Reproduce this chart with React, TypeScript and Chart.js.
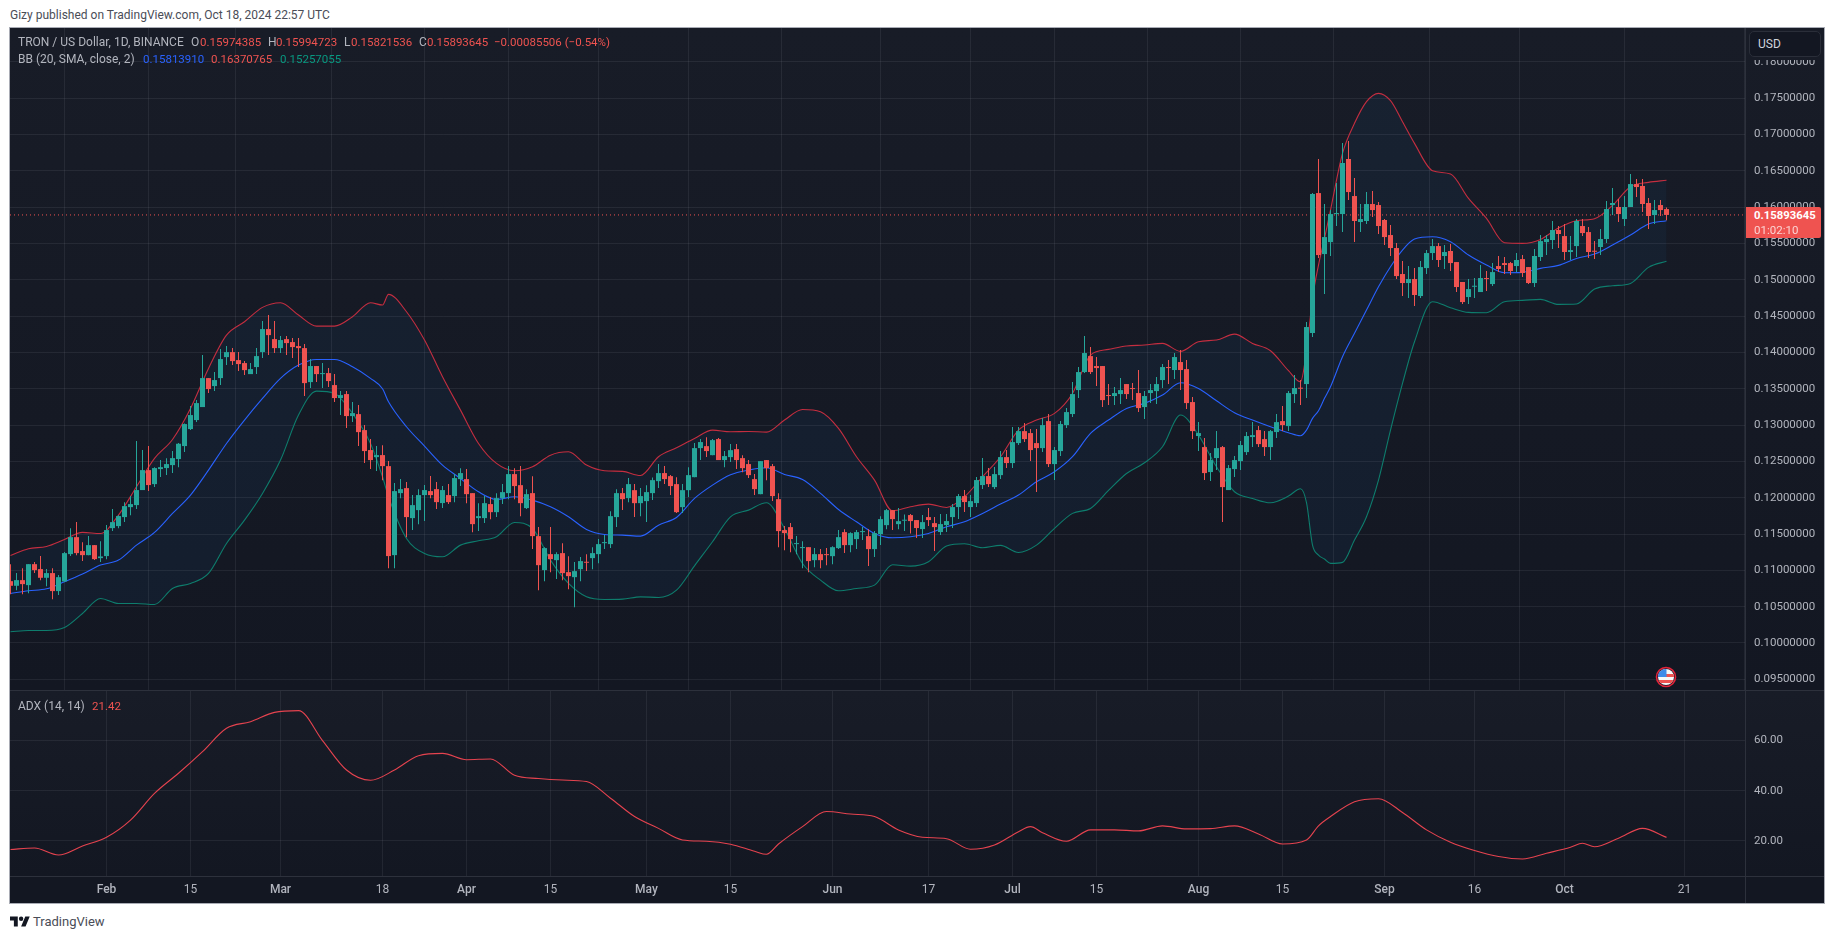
import React, { useEffect, useRef } from "react";
import { Chart, registerables } from "chart.js";

Chart.register(...registerables);

const FONT = "Roboto, sans-serif";

// Days since Jan 16 2024
const opens = [
0.10851,0.10787,0.10865,0.10796,0.11085,0.11017,0.10897,0.10962,0.10714,0.10847,
0.11223,0.11457,0.11265,0.11209,0.11347,0.11168,0.11196,0.11581,0.11609,0.11733,
0.11870,0.11898,0.12105,0.12380,0.12187,0.12394,0.12408,0.12449,0.12532,0.12711,
0.12945,0.13069,0.13248,0.13647,0.13537,0.13647,0.13936,0.14005,0.13895,0.13854,
0.13702,0.13799,0.14005,0.14322,0.14184,0.14060,0.14184,0.14143,0.14088,0.14060,
0.13592,0.13813,0.13702,0.13716,0.13551,0.13372,0.13427,0.13124,0.13151,0.12931,
0.12656,0.12559,0.12587,0.12435,0.11209,0.12063,0.12132,0.11719,0.11829,0.12036,
0.12091,0.12118,0.11926,0.12036,0.12022,0.12256,0.12256,0.12063,0.11719,0.11719,
0.11912,0.11801,0.11994,0.12063,0.12325,0.12173,0.11857,0.12063,0.11471,0.11003,
0.11223,0.11140,0.11237,0.10975,0.10906,0.11016,0.11113,0.11168,0.11223,0.11374,
0.11361,0.11733,0.12063,0.11994,0.12104,0.11925,0.11953,0.12063,0.12228,0.12339,
0.12297,0.12187,0.11870,0.12104,0.12283,0.12683,0.12710,0.12586,0.12807,0.12518,
0.12559,0.12669,0.12545,0.12463,0.12256,0.12049,0.12518,0.12435,0.11980,0.11554,
0.11595,0.11361,0.11306,0.11319,0.11140,0.11223,0.11223,0.11195,0.11306,0.11526,
0.11347,0.11430,0.11526,0.11471,0.11292,0.11498,0.11622,0.11829,0.11636,0.11683,
0.11761,0.11692,0.11568,0.11733,0.11650,0.11527,0.11623,0.11733,0.11871,0.12022,
0.11871,0.11926,0.12174,0.12298,0.12146,0.12311,0.12559,0.12477,0.12752,0.12917,
0.12890,0.12752,0.12683,0.13055,0.12463,0.12642,0.13000,0.13152,0.13482,0.13730,
0.13950,0.13813,0.13813,0.13413,0.13400,0.13427,0.13565,0.13510,0.13441,0.13248,
0.13441,0.13468,0.13620,0.13799,0.13758,0.13868,0.13771,0.13317,0.12849,0.12697,
0.12353,0.12546,0.12697,0.12105,0.12394,0.12504,0.12628,0.12835,0.12931,0.12807,
0.12697,0.12904,0.13055,0.12986,0.13427,0.13510,0.13565,0.14267,0.16195,0.15355,
0.15520,0.15906,0.15906,0.16664,0.16154,0.15796,0.15810,0.16044,0.16030,0.15824,
0.15617,0.15438,0.15080,0.14956,0.15011,0.14777,0.15162,0.15369,0.15465,0.15328,
0.15397,0.15245,0.14970,0.14763,0.14905,0.14832,0.15025,0.14942,0.15190,0.15231,
0.15231,0.15190,0.15286,0.15176,0.14956,0.15314,0.15520,0.15548,0.15686,0.15603,
0.15383,0.15465,0.15741,0.15658,0.15397,0.15452,0.15562,0.16030,0.16003,0.15837,
0.16003,0.16319,0.16292,0.16058,0.15892,0.16030,0.15974385];

const closes = [
0.10787,0.10865,0.10810,0.11085,0.11003,0.10897,0.10962,0.10714,0.10906,0.11237,
0.11457,0.11237,0.11209,0.11347,0.11154,0.11191,0.11554,0.11664,0.11747,0.11884,
0.11912,0.12105,0.12380,0.12174,0.12408,0.12421,0.12463,0.12545,0.12743,0.13014,
0.13138,0.13303,0.13647,0.13496,0.13620,0.13909,0.14005,0.13881,0.13840,0.13757,
0.13771,0.13950,0.14322,0.14239,0.14060,0.14171,0.14129,0.14074,0.14060,0.13578,
0.13813,0.13702,0.13712,0.13606,0.13372,0.13413,0.13124,0.13165,0.12903,0.12642,
0.12518,0.12587,0.12435,0.11196,0.12091,0.12118,0.11733,0.11898,0.12036,0.12105,
0.12036,0.11939,0.12105,0.11939,0.12270,0.12339,0.12049,0.11636,0.11746,0.11925,
0.11801,0.11994,0.12077,0.12325,0.12160,0.11925,0.12049,0.11471,0.11071,0.11306,
0.11154,0.11223,0.10961,0.10920,0.10989,0.11127,0.11104,0.11237,0.11361,0.11388,
0.11746,0.12063,0.11980,0.12187,0.11925,0.12022,0.12077,0.12242,0.12339,0.12256,
0.12160,0.11801,0.12104,0.12311,0.12683,0.12766,0.12642,0.12793,0.12518,0.12573,
0.12655,0.12518,0.12407,0.12311,0.12118,0.12504,0.12407,0.12022,0.11540,0.11512,
0.11430,0.11374,0.11319,0.11127,0.11223,0.11140,0.11209,0.11319,0.11457,0.11347,
0.11512,0.11526,0.11535,0.11292,0.11512,0.11705,0.11829,0.11705,0.11677,0.11692,
0.11678,0.11582,0.11664,0.11692,0.11595,0.11637,0.11678,0.11871,0.12022,0.11940,
0.11953,0.12243,0.12298,0.12187,0.12325,0.12559,0.12477,0.12766,0.12917,0.12807,
0.12656,0.12683,0.13000,0.12463,0.12656,0.13014,0.13179,0.13427,0.13730,0.13992,
0.13730,0.13785,0.13344,0.13400,0.13441,0.13482,0.13427,0.13496,0.13234,0.13400,
0.13482,0.13565,0.13799,0.13785,0.13937,0.13758,0.13303,0.12917,0.12890,0.12339,
0.12518,0.12683,0.12146,0.12408,0.12518,0.12725,0.12849,0.12862,0.12738,0.12697,
0.12917,0.13041,0.13000,0.13441,0.13510,0.13501,0.14350,0.16182,0.15341,0.15589,
0.15906,0.15920,0.16609,0.16209,0.15810,0.15837,0.16044,0.15961,0.15741,0.15589,
0.15438,0.15052,0.14956,0.15011,0.14791,0.15176,0.15369,0.15465,0.15273,0.15383,
0.15231,0.14901,0.14694,0.14873,0.14915,0.15025,0.15011,0.15107,0.15149,0.15204,
0.15121,0.15273,0.15094,0.14956,0.15328,0.15534,0.15562,0.15686,0.15631,0.15383,
0.15410,0.15810,0.15644,0.15383,0.15387,0.15562,0.15975,0.16058,0.15906,0.16003,
0.16319,0.16278,0.16044,0.15879,0.15961,0.15961,0.15893645];

const highs = [
0.11085,0.10962,0.11030,0.11085,0.11113,0.11196,0.11017,0.11030,0.10934,0.11251,
0.11581,0.11664,0.11388,0.11471,0.11347,0.11402,0.11623,0.11843,0.11760,0.11939,
0.12022,0.12780,0.12656,0.12711,0.12421,0.12518,0.12545,0.12642,0.12752,0.13023,
0.13262,0.13344,0.13964,0.13647,0.13730,0.14047,0.14088,0.14060,0.14005,0.13881,
0.13854,0.14060,0.14432,0.14515,0.14432,0.14226,0.14226,0.14198,0.14198,0.14116,
0.13909,0.13813,0.13854,0.13785,0.13702,0.13468,0.13468,0.13317,0.13275,0.13000,
0.12807,0.12711,0.12724,0.12504,0.12201,0.12256,0.12215,0.12036,0.12118,0.12174,
0.12298,0.12215,0.12160,0.12187,0.12325,0.12407,0.12394,0.12063,0.11925,0.12022,
0.12008,0.12063,0.12187,0.12435,0.12407,0.12435,0.12118,0.12297,0.11595,0.11319,
0.11595,0.11250,0.11374,0.11195,0.11113,0.11182,0.11223,0.11319,0.11430,0.11485,
0.11815,0.12118,0.12132,0.12270,0.12187,0.12132,0.12173,0.12279,0.12463,0.12435,
0.12311,0.12283,0.12187,0.12421,0.12752,0.12807,0.12834,0.12807,0.12821,0.12642,
0.12738,0.12738,0.12586,0.12518,0.12325,0.12504,0.12518,0.12463,0.12063,0.11609,
0.11650,0.11471,0.11402,0.11319,0.11306,0.11292,0.11306,0.11333,0.11554,0.11567,
0.11526,0.11554,0.11595,0.11567,0.11540,0.11746,0.11843,0.11829,0.11857,0.11770,
0.11774,0.11692,0.11761,0.11857,0.11733,0.11774,0.11774,0.11912,0.12050,0.12105,
0.12036,0.12284,0.12546,0.12408,0.12422,0.12642,0.12656,0.12973,0.12973,0.13028,
0.12945,0.12945,0.13097,0.13152,0.12697,0.13055,0.13234,0.13592,0.13799,0.14226,
0.14074,0.13937,0.13813,0.13565,0.13523,0.13647,0.13565,0.13579,0.13758,0.13468,
0.13565,0.13661,0.13840,0.13895,0.13992,0.14033,0.13895,0.13386,0.13041,0.12821,
0.12614,0.12917,0.12711,0.12449,0.12573,0.12780,0.12904,0.13041,0.12986,0.12917,
0.12931,0.13152,0.13262,0.13468,0.13689,0.13620,0.14419,0.16195,0.16664,0.16044,
0.15961,0.16333,0.16884,0.16912,0.16402,0.16044,0.16209,0.16223,0.16071,0.15837,
0.15755,0.15507,0.15259,0.15190,0.15162,0.15259,0.15410,0.15562,0.15507,0.15479,
0.15493,0.15245,0.14970,0.15011,0.15025,0.15204,0.15121,0.15231,0.15328,0.15314,
0.15245,0.15369,0.15341,0.15176,0.15424,0.15617,0.15617,0.15810,0.15741,0.15768,
0.15603,0.15837,0.15837,0.15727,0.15534,0.15700,0.16085,0.16264,0.16113,0.16154,
0.16457,0.16388,0.16388,0.16127,0.16099,0.16099,0.15994723];

const lows = [
0.10672,0.10727,0.10672,0.10686,0.10962,0.10865,0.10782,0.10603,0.10659,0.10838,
0.11196,0.11209,0.11127,0.11209,0.11141,0.11113,0.11154,0.11540,0.11581,0.11664,
0.11760,0.11843,0.12105,0.12091,0.12146,0.12284,0.12311,0.12339,0.12421,0.12628,
0.12931,0.13041,0.13248,0.13441,0.13468,0.13551,0.13826,0.13826,0.13744,0.13689,
0.13702,0.13702,0.13923,0.13964,0.13992,0.13992,0.13964,0.13923,0.13799,0.13399,
0.13510,0.13592,0.13510,0.13523,0.13317,0.13138,0.12959,0.13041,0.12711,0.12477,
0.12394,0.12366,0.12242,0.11030,0.11030,0.11994,0.11457,0.11554,0.11636,0.11678,
0.11994,0.11843,0.11857,0.11912,0.11939,0.12160,0.11925,0.11526,0.11540,0.11650,
0.11705,0.11733,0.11912,0.11980,0.11980,0.11746,0.11843,0.11292,0.10727,0.10851,
0.10975,0.10879,0.10865,0.10741,0.10493,0.10851,0.10989,0.11016,0.11099,0.11292,
0.11306,0.11595,0.11829,0.11939,0.11733,0.11746,0.11664,0.11967,0.12132,0.12187,
0.12036,0.11788,0.11788,0.12008,0.12283,0.12518,0.12559,0.12586,0.12518,0.12421,
0.12490,0.12394,0.12352,0.12270,0.12036,0.12049,0.12242,0.11953,0.11319,0.11278,
0.11250,0.11223,0.11030,0.10975,0.11044,0.11030,0.11071,0.11085,0.11292,0.11237,
0.11250,0.11292,0.11416,0.11058,0.11182,0.11347,0.11567,0.11554,0.11567,0.11540,
0.11508,0.11444,0.11444,0.11609,0.11265,0.11485,0.11527,0.11582,0.11706,0.11802,
0.11733,0.11871,0.12119,0.12146,0.12119,0.12256,0.12408,0.12408,0.12725,0.12766,
0.12504,0.12077,0.12628,0.12422,0.12243,0.12573,0.12959,0.13110,0.13372,0.13716,
0.13703,0.13537,0.13248,0.13276,0.13276,0.13289,0.13358,0.13344,0.13179,0.13083,
0.13303,0.13289,0.13510,0.13565,0.13634,0.13482,0.13220,0.12807,0.12642,0.12243,
0.12229,0.12380,0.11664,0.12105,0.12284,0.12380,0.12587,0.12697,0.12697,0.12573,
0.12518,0.12821,0.12917,0.12917,0.13303,0.13276,0.13372,0.14212,0.15300,0.14804,
0.15328,0.15741,0.15658,0.16099,0.15520,0.15658,0.15768,0.15865,0.15631,0.15479,
0.15328,0.15011,0.14777,0.14749,0.14639,0.14749,0.15080,0.15273,0.15176,0.15149,
0.15121,0.14832,0.14667,0.14667,0.14749,0.14832,0.14846,0.14915,0.15107,0.15080,
0.15066,0.15107,0.15038,0.14942,0.14901,0.15259,0.15341,0.15424,0.15438,0.15273,
0.15273,0.15314,0.15603,0.15300,0.15286,0.15341,0.15507,0.15892,0.15796,0.15741,
0.16003,0.16140,0.15934,0.15700,0.15768,0.15879,0.15821536];

const bandDays = [
0,3,6,9,12,15,18,21,24,27,30,33,36,39,42,45,48,51,54,57,60,62,63,66,69,72,
75,78,81,84,87,90,93,96,99,102,105,108,111,114,117,120,123,126,129,132,135,138,141,144,147,
150,153,156,159,162,165,168,171,174,177,180,183,186,189,192,195,198,201,204,207,210,
213,215,216,217,218,219,220,222,224,226,228,230,232,234,
237,240,243,246,249,252,255,258,261,264,267,270,273,276];

const bbUpper = [
0.11205,0.11297,0.11329,0.11425,0.11522,0.11508,0.11760,0.12151,0.12541,0.12802,0.13229,0.13780,0.14239,0.14423,0.14621,0.14685,0.14515,0.14363,0.14363,0.14492,0.14685,0.14653,0.14800,0.14561,0.14171,0.13666,
0.13206,0.12747,0.12472,0.12371,0.12426,0.12586,0.12632,0.12449,0.12371,0.12362,0.12306,0.12564,0.12687,0.12816,0.12931,0.12908,0.12912,0.12903,0.13069,0.13215,0.13183,0.12954,0.12564,0.12242,0.11820,
0.11875,0.11912,0.11866,0.12013,0.12288,0.12564,0.12931,0.13069,0.13161,0.13436,0.13964,0.14042,0.14088,0.14102,0.14125,0.14015,0.14148,0.14171,0.14253,0.14125,0.14024,
0.13749,0.13597,0.14020,0.14745,0.15204,0.15571,0.15961,0.16742,0.17155,0.17453,0.17568,0.17467,0.17178,0.16879,
0.16503,0.16457,0.16122,0.15846,0.15511,0.15502,0.15557,0.15713,0.15814,0.15842,0.16025,0.16283,0.16342,0.16370765];

const bbBasis = [
0.10681,0.10718,0.10746,0.10842,0.10948,0.11072,0.11141,0.11347,0.11522,0.11783,0.12036,0.12380,0.12747,0.13069,0.13367,0.13643,0.13826,0.13904,0.13904,0.13803,0.13643,0.13500,0.13321,0.12977,0.12711,0.12449,
0.12265,0.12081,0.11976,0.12013,0.11967,0.11875,0.11737,0.11563,0.11494,0.11485,0.11471,0.11622,0.11728,0.11990,0.12173,0.12316,0.12380,0.12412,0.12320,0.12251,0.12059,0.11838,0.11668,0.11508,0.11448,
0.11462,0.11508,0.11600,0.11669,0.11784,0.11912,0.12036,0.12220,0.12357,0.12564,0.12885,0.13069,0.13230,0.13299,0.13413,0.13583,0.13505,0.13335,0.13170,0.13069,0.12977,
0.12895,0.12853,0.12931,0.13092,0.13198,0.13368,0.13528,0.13941,0.14263,0.14584,0.14905,0.15181,0.15410,0.15562,
0.15594,0.15525,0.15341,0.15204,0.15098,0.15103,0.15158,0.15199,0.15295,0.15355,0.15479,0.15617,0.15768,0.15813910];

const bbLower = [
0.10154,0.10172,0.10172,0.10213,0.10406,0.10613,0.10544,0.10544,0.10530,0.10750,0.10819,0.10957,0.11370,0.11691,0.12059,0.12518,0.13138,0.13468,0.13436,0.13161,0.12747,0.12288,0.12013,0.11439,0.11232,0.11186,
0.11347,0.11407,0.11462,0.11659,0.11576,0.11140,0.10819,0.10635,0.10599,0.10603,0.10635,0.10626,0.10727,0.11062,0.11393,0.11737,0.11829,0.11930,0.11576,0.11094,0.10865,0.10718,0.10750,0.10796,0.11076,
0.11058,0.11118,0.11334,0.11366,0.11311,0.11343,0.11246,0.11347,0.11577,0.11784,0.11852,0.12100,0.12334,0.12481,0.12702,0.13138,0.12862,0.12426,0.12082,0.11990,0.11930,
0.12022,0.12123,0.11931,0.11348,0.11210,0.11155,0.11095,0.11109,0.11416,0.11738,0.12243,0.12931,0.13574,0.14148,
0.14699,0.14616,0.14552,0.14547,0.14699,0.14717,0.14731,0.14662,0.14667,0.14873,0.14919,0.14951,0.15172,0.15257055];

const adxDays = [
0,4,8,12,16,20,24,28,32,36,40,44,48,52,56,60,64,68,72,76,80,84,88,92,96,100,104,108,112,116,120,124,126,128,132,136,
140,144,148,152,156,160,164,168,170,172,176,180,184,188,192,196,200,204,208,212,216,218,220,224,228,232,236,240,244,248,252,256,260,262,264,268,272,276];

const adxValues = [
16.6,17.2,14.4,18.0,21.5,28.3,38.9,46.9,55.5,64.8,67.4,71.1,71.8,59.9,48.2,44.1,48.2,53.9,54.8,52.3,52.6,46.1,44.8,44.2,43.6,37.0,29.7,25.0,20.4,19.9,18.7,15.9,14.7,18.8,25.7,31.7,
30.7,29.7,24.4,21.5,20.9,16.7,18.4,23.7,25.7,23.3,19.9,24.4,24.4,24.0,26.0,24.8,24.9,26.0,22.8,18.8,20.4,26.0,29.7,35.6,36.8,31.3,24.4,19.5,16.2,13.8,12.8,15.1,17.5,19.1,17.7,21.1,25.0,21.42];

const xTickDays = [16,30,45,62,76,90,106,120,137,153,167,181,198,212,229,244,259,279];
const xTickLabels = ["Feb","15","Mar","18","Apr","15","May","15","Jun","17","Jul","15","Aug","15","Sep","16","Oct","21"];
const priceTicks = [0.095,0.1,0.105,0.11,0.115,0.12,0.125,0.13,0.135,0.14,0.145,0.15,0.155,0.16,0.165,0.17,0.175,0.18];
const adxTicks = [20,40,60];
const lastPrice = 0.15893645;

const UP = "#26a69a";
const DOWN = "#ef5350";
const GRID = "rgba(240,243,250,0.07)";
const TEXT = "#b2b5be";
const X_MIN = -0.0833;
const X_MAX = 289.083;
const AXIS_W = 79;

const xy = (xs: number[], ys: number[]) => xs.map((x, i) => ({ x, y: ys[i] }));
const candleColors = closes.map((c, i) => (c >= opens[i] ? UP : DOWN));

function setTicks(values: number[]) {
  return (scale: any) => {
    scale.ticks = values.map((value) => ({ value }));
  };
}
function fitY(scale: any) {
  scale.width = AXIS_W;
  scale.paddingTop = 0;
  scale.paddingBottom = 0;
}
function fitX(h: number) {
  return (scale: any) => {
    scale.height = h;
    scale.paddingLeft = 0;
    scale.paddingRight = 0;
  };
}

function Txt({ x, y, c, children, style }: any) {
  return (
    <span
      style={{
        position: "absolute",
        left: x,
        top: y,
        color: c,
        whiteSpace: "nowrap",
        lineHeight: "16px",
        transform: "translateY(-8px)",
        ...style,
      }}
    >
      {children}
    </span>
  );
}

function Flag() {
  return (
    <svg style={{ position: "absolute", left: 1655, top: 666 }} width="22" height="22" viewBox="0 0 22 22">
      <defs>
        <clipPath id="fc">
          <circle cx="11" cy="11" r="8" />
        </clipPath>
      </defs>
      <circle cx="11" cy="11" r="9.5" fill="#131722" stroke="#e4243a" strokeWidth="1.6" />
      <g clipPath="url(#fc)">
        <rect x="2" y="2" width="18" height="18" fill="#f8f8f8" />
        <rect x="2" y="8" width="18" height="3" fill="#ef5350" />
        <rect x="2" y="14" width="18" height="3" fill="#ef5350" />
        <rect x="2" y="2" width="9.5" height="9" fill="#3f8ae8" />
      </g>
    </svg>
  );
}

export default function App() {
  const priceRef = useRef<HTMLCanvasElement>(null);
  const adxRef = useRef<HTMLCanvasElement>(null);

  useEffect(() => {
    const priceChart = new Chart(priceRef.current as any, {
      type: "bar",
      data: {
        datasets: [
          {
            type: "bar",
            data: closes.map((c, i) => ({ x: i, y: [opens[i], c] })),
            backgroundColor: candleColors,
            barThickness: 5,
            grouped: false,
            inflateAmount: 0,
            minBarLength: 1,
            order: 1,
          },
          {
            type: "bar",
            data: highs.map((h, i) => ({ x: i, y: [lows[i], h] })),
            backgroundColor: candleColors,
            barThickness: 1,
            grouped: false,
            inflateAmount: 0,
            order: 2,
          },
          {
            type: "line",
            data: [
              { x: X_MIN, y: lastPrice },
              { x: X_MAX, y: lastPrice },
            ],
            borderColor: DOWN,
            borderWidth: 1,
            borderDash: [1, 3],
            pointRadius: 0,
            order: 3,
          },
          {
            type: "line",
            data: xy(bandDays, bbBasis),
            borderColor: "#2962ff",
            borderWidth: 1.1,
            pointRadius: 0,
            cubicInterpolationMode: "monotone",
            order: 4,
          },
          {
            type: "line",
            data: xy(bandDays, bbLower),
            borderColor: "#0e7d6d",
            borderWidth: 1.1,
            pointRadius: 0,
            cubicInterpolationMode: "monotone",
            order: 5,
          },
          {
            type: "line",
            data: xy(bandDays, bbUpper),
            borderColor: "#c42e40",
            borderWidth: 1.1,
            pointRadius: 0,
            cubicInterpolationMode: "monotone",
            fill: { target: 4 },
            backgroundColor: "rgba(33,150,243,0.055)",
            order: 6,
          },
        ],
      },
      options: {
        responsive: false,
        animation: false,
        events: [],
        devicePixelRatio: 1,
        layout: { padding: 0 },
        plugins: { legend: { display: false }, tooltip: { enabled: false } },
        scales: {
          x: {
            type: "linear",
            min: X_MIN,
            max: X_MAX,
            offset: false,
            afterBuildTicks: setTicks(xTickDays),
            afterFit: fitX(0),
            grid: { color: GRID, drawTicks: false },
            border: { display: false },
            ticks: { display: false },
          },
          y: {
            type: "linear",
            position: "right",
            min: 0.09352,
            max: 0.18468,
            afterBuildTicks: setTicks(priceTicks),
            afterFit: fitY,
            grid: { color: GRID, drawTicks: false },
            border: { display: false },
            ticks: {
              autoSkip: false,
              padding: 9,
              color: TEXT,
              font: { family: FONT, size: 11.5 },
              callback: (v: any) => Number(v).toFixed(8),
            },
          },
        },
      } as any,
    } as any);

    const adxChart = new Chart(adxRef.current as any, {
      type: "line",
      data: {
        datasets: [
          {
            data: xy(adxDays, adxValues),
            borderColor: "#e5434f",
            borderWidth: 1.1,
            pointRadius: 0,
            cubicInterpolationMode: "monotone",
          },
        ],
      },
      options: {
        responsive: false,
        animation: false,
        events: [],
        devicePixelRatio: 1,
        layout: { padding: 0 },
        plugins: { legend: { display: false }, tooltip: { enabled: false } },
        scales: {
          x: {
            type: "linear",
            min: X_MIN,
            max: X_MAX,
            offset: false,
            afterBuildTicks: setTicks(xTickDays),
            afterFit: fitX(27),
            grid: { color: GRID, drawTicks: false },
            border: { display: false },
            ticks: {
              autoSkip: false,
              maxRotation: 0,
              padding: 7,
              color: TEXT,
              font: (ctx: any) => ({
                family: FONT,
                size: 12,
                weight: isNaN(Number(xTickLabels[xTickDays.indexOf(ctx.tick?.value)])) ? "500" : "400",
              }),
              callback: (v: any) => xTickLabels[xTickDays.indexOf(v)] ?? "",
            },
          },
          y: {
            type: "linear",
            position: "right",
            min: 6.07,
            max: 79.6,
            afterBuildTicks: setTicks(adxTicks),
            afterFit: fitY,
            grid: { color: GRID, drawTicks: false },
            border: { display: false },
            ticks: {
              autoSkip: false,
              padding: 9,
              color: TEXT,
              font: { family: FONT, size: 11.5 },
              callback: (v: any) => Number(v).toFixed(2),
            },
          },
        },
      } as any,
    } as any);

    return () => {
      priceChart.destroy();
      adxChart.destroy();
    };
  }, []);

  const PANE = "linear-gradient(180deg,#181c27 0%,#131722 100%)";
  const NAME = { fontSize: 12 };
  const VAL = { fontSize: 11.5 };

  return (
    <div style={{ position: "absolute", left: 0, top: 0, width: 1835, height: 939, background: "#fff", overflow: "hidden", fontFamily: FONT }}>
      <Txt x={10} y={15} c="#4a4d57" style={{ fontSize: 12 }}>
        Gizy published on TradingView.com, Oct 18, 2024 22:57 UTC
      </Txt>

      {/* frame */}
      <div style={{ position: "absolute", left: 9, top: 27, width: 1814, height: 875, border: "1px solid #a9acb5", background: "#131722" }} />
      <div style={{ position: "absolute", left: 10, top: 28, width: 1814, height: 662, background: PANE }} />
      <div style={{ position: "absolute", left: 10, top: 691, width: 1814, height: 185, background: PANE }} />

      <canvas ref={priceRef} width={1814} height={662} style={{ position: "absolute", left: 10, top: 28 }} />
      <canvas ref={adxRef} width={1814} height={212} style={{ position: "absolute", left: 10, top: 691 }} />

      {/* pane separators */}
      <div style={{ position: "absolute", left: 10, top: 690, width: 1814, height: 1, background: "#2d313c" }} />
      <div style={{ position: "absolute", left: 10, top: 876, width: 1814, height: 1, background: "#2d313c" }} />
      <div style={{ position: "absolute", left: 1745, top: 28, width: 1, height: 875, background: "#2d313c" }} />

      {/* legend */}
      <Txt x={18} y={42} c={TEXT} style={NAME}>TRON / US Dollar, 1D, BINANCE</Txt>
      <Txt x={191} y={42} c={TEXT} style={NAME}>O</Txt>
      <Txt x={200} y={42} c={DOWN} style={VAL}>0.15974385</Txt>
      <Txt x={268} y={42} c={TEXT} style={NAME}>H</Txt>
      <Txt x={276} y={42} c={DOWN} style={VAL}>0.15994723</Txt>
      <Txt x={344} y={42} c={TEXT} style={NAME}>L</Txt>
      <Txt x={351} y={42} c={DOWN} style={VAL}>0.15821536</Txt>
      <Txt x={419} y={42} c={TEXT} style={NAME}>C</Txt>
      <Txt x={427} y={42} c={DOWN} style={VAL}>0.15893645</Txt>
      <Txt x={494} y={42} c={DOWN} style={VAL}>−0.00085506 (−0.54%)</Txt>
      <Txt x={18} y={59} c={TEXT} style={NAME}>BB (20, SMA, close, 2)</Txt>
      <Txt x={143} y={59} c="#2962ff" style={VAL}>0.15813910</Txt>
      <Txt x={211} y={59} c={DOWN} style={VAL}>0.16370765</Txt>
      <Txt x={280} y={59} c="#089981" style={VAL}>0.15257055</Txt>
      <Txt x={18} y={706} c={TEXT} style={{ fontSize: 12 }}>ADX (14, 14)</Txt>
      <Txt x={92} y={706} c={DOWN} style={VAL}>21.42</Txt>

      {/* currency button */}
      <div style={{ position: "absolute", left: 1746, top: 28, width: 78, height: 32, background: "#181c27" }} />
      <div style={{ position: "absolute", left: 1749, top: 31, width: 62, height: 24, border: "1px solid #2a2e39", borderRadius: 5, background: "#131722", color: "#d1d4dc", fontSize: 12, lineHeight: "24px", paddingLeft: 8, boxSizing: "content-box" }}>
        USD
      </div>

      {/* last price label */}
      <div style={{ position: "absolute", left: 1746, top: 207, width: 75, height: 31, background: DOWN, borderRadius: "0 2px 2px 0" }} />
      <Txt x={1754} y={216} c="#fff" style={{ fontSize: 11.3, fontWeight: 700 }}>0.15893645</Txt>
      <Txt x={1754} y={230} c="rgba(255,255,255,0.75)" style={{ fontSize: 11.5 }}>01:02:10</Txt>

      <Flag />

      {/* TradingView mark */}
      <svg style={{ position: "absolute", left: 10, top: 915 }} width="20" height="13" viewBox="0 2 36 22">
        <path d="M14 22H7V11H0V4h14v18zM28 22h-8l7.5-18h8L28 22z" fill="#131722" />
        <circle cx="20" cy="8" r="4" fill="#131722" />
      </svg>
      <Txt x={33} y={922} c="#4a4d57" style={{ fontSize: 13 }}>TradingView</Txt>
    </div>
  );
}
